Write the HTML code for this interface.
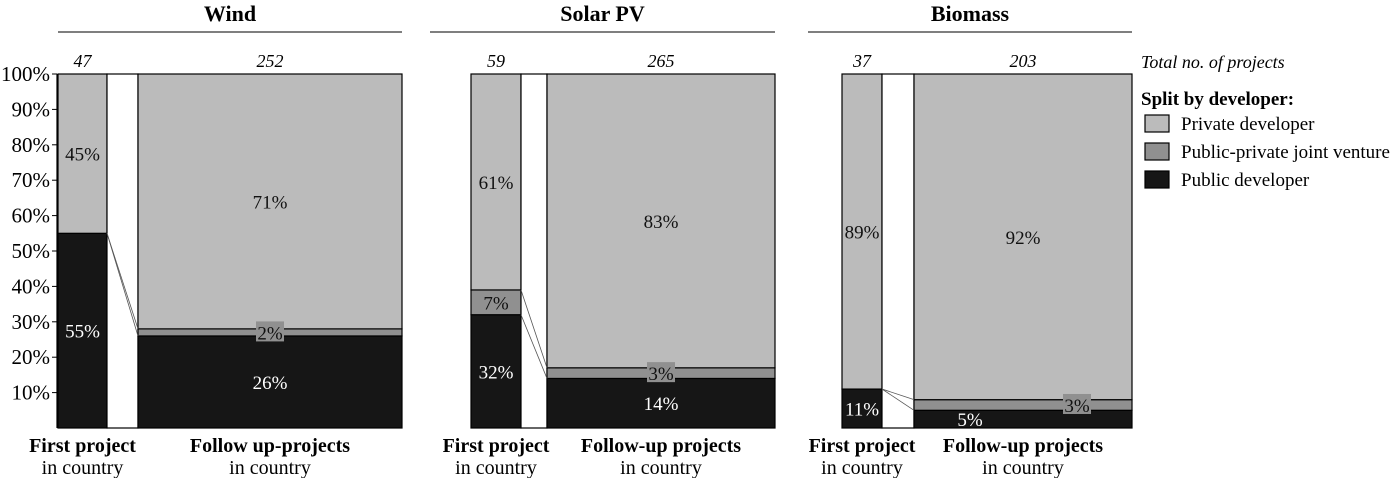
<!DOCTYPE html>
<html><head><meta charset="utf-8"><style>
body{margin:0;background:#fff;}
svg{display:block;font-family:"Liberation Serif",serif;}
</style></head><body>
<svg id="c" width="1400" height="478"></svg>
<script>
const panels=["Wind","Solar PV","Biomass"];
const firstCounts=[47,59,37];
const followCounts=[252,265,203];
const firstPublic=[55,32,11];
const firstJV=[0,7,0];
const firstPrivate=[45,61,89];
const followPublic=[26,14,5];
const followJV=[2,3,3];
const followPrivate=[71,83,92];
const followLabels=["Follow up-projects","Follow-up projects","Follow-up projects"];
const yTicks=[10,20,30,40,50,60,70,80,90,100];

const NS="http://www.w3.org/2000/svg";
const svg=document.getElementById('c');
const y0=428,y1=74;
const y=v=>y0-(y0-y1)*v/100;
const geo=[{x0:58,f1:107,g1:138,x1:402,l0:58},{x0:471,f1:521,g1:547,x1:775,l0:430},{x0:842,f1:882,g1:914,x1:1132,l0:808}];
const C={pri:"#bbbbbb",jv:"#909090",pub:"#161616"};
function el(t,a,p){const e=document.createElementNS(NS,t);for(const k in a)e.setAttribute(k,a[k]);(p||svg).appendChild(e);return e;}
function txt(x,yy,s,a){const e=el('text',Object.assign({x:x,y:yy,'text-anchor':'middle','font-size':19},a||{}));e.textContent=s;return e;}

let ax=el('line',{x1:57,y1:y1,x2:57,y2:y0,stroke:'#000','stroke-width':1.2});

yTicks.forEach(v=>{
  el('line',{x1:52,y1:y(v),x2:57,y2:y(v),stroke:'#000'});
  let t=txt(50,y(v)+7,v+'%',{'text-anchor':'end','font-size':21});
  
});

function stack(x0,x1,pub,jv,pri,nameBase){
  const segs=[[0,pub,C.pub,'public'],[pub,pub+jv,C.jv,'jv'],[pub+jv,100,C.pri,'private']];
  segs.forEach(s=>{
    if(s[1]-s[0]<=0)return;
    let r=el('rect',{x:x0,y:y(s[1]),width:x1-x0,height:y(s[0])-y(s[1]),fill:s[2],stroke:'#000','stroke-width':1.2});
    
  });
}

panels.forEach((p,i)=>{
  const g=geo[i];
  let t=txt((g.l0+g.x1)/2,21,p,{'font-weight':'bold','font-size':22});
  
  el('line',{x1:g.l0,y1:32,x2:g.x1,y2:32,stroke:'#333','stroke-width':1.2});
  let c1=txt((g.x0+g.f1)/2,67,firstCounts[i],{'font-style':'italic','font-size':18});
  
  let c2=txt((g.g1+g.x1)/2,67,followCounts[i],{'font-style':'italic','font-size':18});
  
  stack(g.x0,g.f1,firstPublic[i],firstJV[i],firstPrivate[i],'first-bar');
  el('rect',{x:g.f1,y:y1,width:g.g1-g.f1,height:y0-y1,fill:'#fff',stroke:'#000','stroke-width':1.2});
  stack(g.g1,g.x1,followPublic[i],followJV[i],followPrivate[i],'follow-bar');
  el('line',{x1:g.f1,y1:y(firstPublic[i]),x2:g.g1,y2:y(followPublic[i]),stroke:'#555','stroke-width':0.8});
  el('line',{x1:g.f1,y1:y(firstPublic[i]+firstJV[i]),x2:g.g1,y2:y(followPublic[i]+followJV[i]),stroke:'#555','stroke-width':0.8});
  const fc=(g.x0+g.f1)/2;
  txt(fc,y((firstPublic[i]+firstJV[i]+100)/2)+7,firstPrivate[i]+'%',{fill:'#111'});
  txt(fc,y(firstPublic[i]/2)+7,firstPublic[i]+'%',{fill:'#fff'});
  if(firstJV[i]>0)txt(fc,y(firstPublic[i]+firstJV[i]/2)+7,firstJV[i]+'%',{fill:'#111'});
  const cc=(g.g1+g.x1)/2;
  txt(cc,y((followPublic[i]+followJV[i]+100)/2)+7,followPrivate[i]+'%',{fill:'#111'});
  const jx=i==2?g.x1-55:cc;
  const jy=y(followPublic[i]+followJV[i]/2);
  el('rect',{x:jx-14,y:jy-11,width:28,height:20,fill:C.jv});
  txt(jx,jy+7,followJV[i]+'%',{fill:'#111'});
  const px=i==2?cc-53:cc;
  const py=i==2?y0-2:y(followPublic[i]/2)+7;
  txt(px,py,followPublic[i]+'%',{fill:'#fff'});
  txt(fc,452,'First project',{'font-weight':'bold','font-size':20});
  txt(fc,474,'in country',{'font-size':20});
  txt(cc,452,followLabels[i],{'font-weight':'bold','font-size':20});
  txt(cc,474,'in country',{'font-size':20});
});

let lt=txt(1141,68,'Total no. of projects',{'text-anchor':'start','font-style':'italic','font-size':18});

txt(1141,105,'Split by developer:',{'text-anchor':'start','font-weight':'bold','font-size':19});
const legItems=[["Private developer",C.pri],["Public-private joint venture",C.jv],["Public developer",C.pub]];
legItems.forEach((l,k)=>{
  const yy=115+k*28;
  let r=el('rect',{x:1145,y:yy,width:24,height:17,fill:l[1],stroke:'#000','stroke-width':1.2});
  
  let t=txt(1181,yy+15,l[0],{'text-anchor':'start','font-size':19});
  
});
</script>
</body></html>
